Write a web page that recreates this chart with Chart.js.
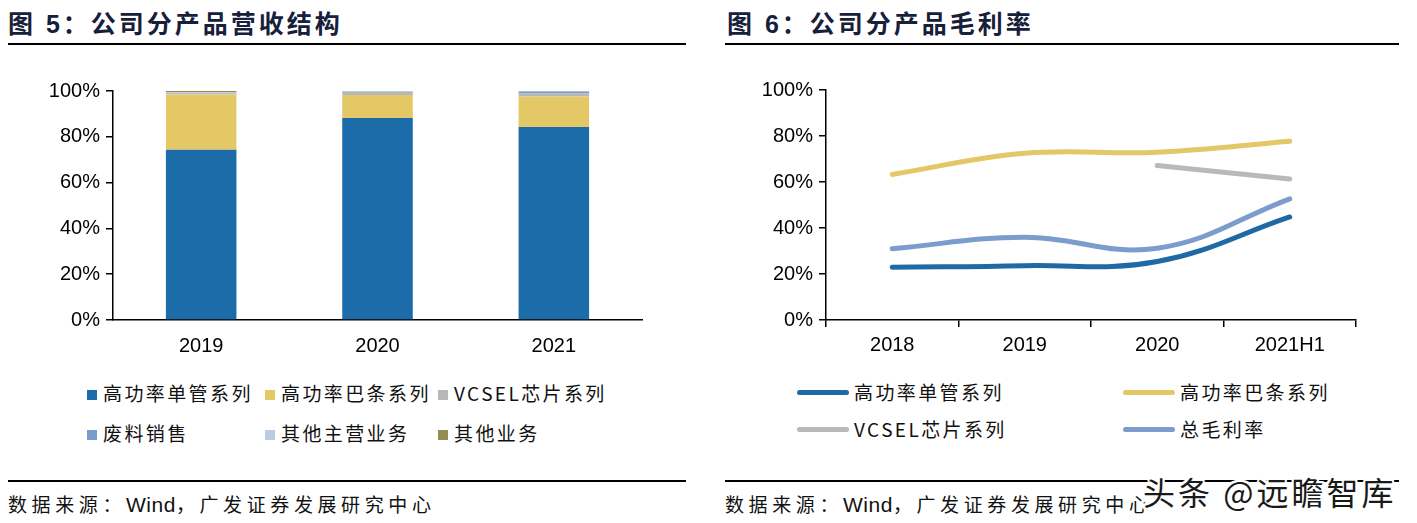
<!DOCTYPE html>
<html>
<head>
<meta charset="utf-8">
<script src="https://cdn.jsdelivr.net/npm/chart.js@4.4.1/dist/chart.umd.min.js"></script>
<style>
  body { margin: 0; width: 1417px; height: 523px; background: #fff; position: relative; overflow: hidden;
         font-family: "Liberation Sans", "Noto Sans CJK SC", sans-serif; }
  .title { position: absolute; top: 4px; font: bold 25px "Liberation Sans", "Noto Sans CJK SC", sans-serif; color: #16203a; letter-spacing: 3px; }
  .rule { position: absolute; height: 2px; background: #000; }
  .source { position: absolute; top: 490px; font: 19px "Liberation Sans", "Noto Sans CJK SC", sans-serif; color: #111; letter-spacing: 4.6px; }
  .source .en { font-size: 21px; letter-spacing: 0.5px; }
  .box { position: absolute; }
  .leg { position: absolute; font: 19px "Noto Sans CJK SC", sans-serif; color: #111; letter-spacing: 2.4px; white-space: nowrap; line-height: 24px; }
  .leg .sq { display: inline-block; width: 10px; height: 10px; margin-right: 6px; vertical-align: 1px; }
  .leg .ln { display: inline-block; width: 52px; height: 5px; border-radius: 3px; margin-right: 5px; vertical-align: 5px; }
  .mark { position: absolute; left: 1143px; top: 468px; font: 32px "Noto Sans CJK SC", sans-serif; color: #1a1a1a; letter-spacing: 3px;
          text-shadow: -2px 0 #fff, 2px 0 #fff, 0 -2px #fff, 0 2px #fff, -2px -2px #fff, 2px 2px #fff, -2px 2px #fff, 2px -2px #fff; }
</style>
</head>
<body>
<div class="title" style="left:8px">图 5：公司分产品营收结构</div>
<div class="title" style="left:727px">图 6：公司分产品毛利率</div>
<div class="rule" style="left:8px; width:678px; top:43px"></div>
<div class="rule" style="left:725px; width:674px; top:43px"></div>

<div class="box" style="left:0; top:70px; width:700px; height:300px"><canvas id="revChart"></canvas></div>
<div class="box" style="left:720px; top:70px; width:697px; height:300px"><canvas id="marginChart"></canvas></div>
<div id="revLegend"></div>
<div id="marginLegend"></div>

<div class="rule" style="left:8px; width:678px; top:480px"></div>
<div class="rule" style="left:725px; width:674px; top:480px"></div>
<div class="source" style="left:8px">数据来源：<span class="en">Wind</span>，广发证券发展研究中心</div>
<div class="source" style="left:725px">数据来源：<span class="en">Wind</span>，广发证券发展研究中心</div>
<div class="mark">头条 @远瞻智库</div>

<script>
// Revenue structure (share of revenue, %)
const revYears = ["2019", "2020", "2021"];
const singleTube = [74.3, 88.2, 84.3];
const barSeries = [24.2, 10.1, 13.3];
const vcsel = [0.5, 1.3, 1.3];
const scrap = [0.1, 0.0, 0.9];
const otherMain = [0.4, 0.4, 0.2];
const otherBiz = [0.5, 0.0, 0.0];

// Gross margin by product (%)
const marginYears = ["2018", "2019", "2020", "2021H1"];
const singleTubeMargin = [22.9, 23.6, 25.4, 44.8];
const barMargin = [63.3, 72.5, 72.9, 77.7];
const vcselMargin = [null, null, 67.2, 61.3];
const totalMargin = [31.0, 36.0, 31.2, 52.7];

const yTicks = [0, 20, 40, 60, 80, 100];

const tickFont = { family: "Liberation Sans", size: 20 };

const revSets = [
    { label: "高功率单管系列", data: singleTube, color: "#1b6ca8" },
    { label: "高功率巴条系列", data: barSeries, color: "#e4c866" },
    { label: "VCSEL芯片系列", data: vcsel, color: "#b7b7b7" },
    { label: "废料销售", data: scrap, color: "#7a9ccc" },
    { label: "其他主营业务", data: otherMain, color: "#b8cce4" },
    { label: "其他业务", data: otherBiz, color: "#948a54" },
];

const marginSets = [
    { label: "高功率单管系列", data: singleTubeMargin, color: "#1f6aa5" },
    { label: "高功率巴条系列", data: barMargin, color: "#e4c766" },
    { label: "VCSEL芯片系列", data: vcselMargin, color: "#b9b9b9" },
    { label: "总毛利率", data: totalMargin, color: "#7b9dcb" },
];

function yScale(axisWidth) {
    return {
        min: 0,
        max: 100,
        afterBuildTicks: (s) => { s.ticks = yTicks.map((v) => ({ value: v })); },
        afterFit: (s) => { s.width = axisWidth; },
        ticks: { font: tickFont, color: "#000", padding: 6, callback: (v) => v + "%" },
        grid: { drawOnChartArea: false, tickLength: 7, color: "#000", lineWidth: 1.5 },
        border: { color: "#000", width: 1.5 },
    };
}

// Stacked bar chart
new Chart(document.getElementById("revChart"), {
    type: "bar",
    data: {
        labels: revYears,
        datasets: revSets.map((s) => ({
            label: s.label,
            data: s.data,
            backgroundColor: s.color,
            barPercentage: 0.4,
            categoryPercentage: 1,
        })),
    },
    options: {
        responsive: true,
        maintainAspectRatio: false,
        animation: false,
        layout: { padding: { top: 21, right: 58, left: 0, bottom: 0 } },
        plugins: { legend: { display: false }, tooltip: { enabled: false } },
        scales: {
            x: {
                stacked: true,
                afterFit: (s) => { s.height = 50; },
                ticks: { font: tickFont, color: "#000", padding: 14 },
                grid: { display: false, drawTicks: false },
                border: { color: "#000", width: 1.5 },
            },
            y: Object.assign(yScale(113), { stacked: true }),
        },
    },
});

// Margin line chart
new Chart(document.getElementById("marginChart"), {
    type: "line",
    data: {
        labels: marginYears,
        datasets: marginSets.map((s) => ({
            label: s.label,
            data: s.data,
            borderColor: s.color,
            borderWidth: 5,
            borderCapStyle: "round",
            pointRadius: 0,
            tension: 0.4,
            fill: false,
            spanGaps: false,
        })),
    },
    options: {
        responsive: true,
        maintainAspectRatio: false,
        animation: false,
        layout: { padding: { top: 20, right: 61, left: 0, bottom: 0 } },
        plugins: { legend: { display: false }, tooltip: { enabled: false } },
        scales: {
            x: {
                offset: true,
                afterFit: (s) => { s.height = 50; },
                ticks: { font: tickFont, color: "#000", padding: 6 },
                grid: { offset: true, drawOnChartArea: false, tickLength: 7, color: "#000", lineWidth: 1.5 },
                border: { color: "#000", width: 1.5 },
            },
            y: yScale(106),
        },
    },
});

// Legends
function addLegend(id, sets, slots, kind) {
    const host = document.getElementById(id);
    sets.forEach((s, i) => {
        const el = document.createElement("div");
        el.className = "leg";
        el.style.left = slots[i][0] + "px";
        el.style.top = slots[i][1] + "px";
        const sw = document.createElement("span");
        sw.className = kind;
        sw.style.background = s.color;
        el.appendChild(sw);
        el.appendChild(document.createTextNode(s.label));
        host.appendChild(el);
    });
}

addLegend("revLegend", revSets,
    [[87, 381], [265, 381], [438, 381], [87, 421], [265, 421], [438, 421]], "sq");
addLegend("marginLegend", marginSets,
    [[797, 380], [1123, 380], [797, 417], [1123, 417]], "ln");
</script>
</body>
</html>
